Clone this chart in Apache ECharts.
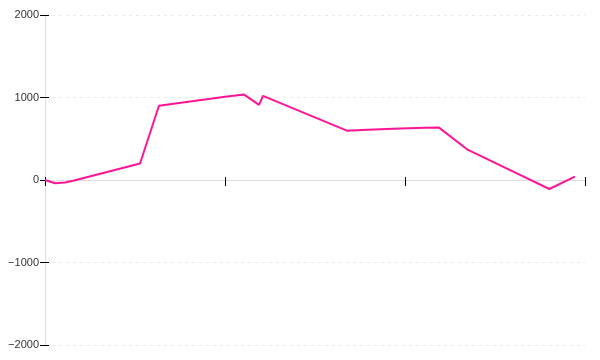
<!DOCTYPE html>
<html>
<head>
<meta charset="utf-8">
<script src="https://cdn.jsdelivr.net/npm/echarts@6/dist/echarts.min.js"></script>
<style>html,body{margin:0;padding:0;background:#fff;}#c{width:600px;height:360px;}</style>
</head>
<body>
<div id="c"></div>
<script>
var xValues = [0, 0.056, 0.111, 0.156, 0.528, 0.633, 1.0, 1.106, 1.189, 1.211, 1.677, 1.76, 1.933, 2.111, 2.189, 2.35, 2.639, 2.802, 2.944];
var yValues = [0, -40, -30, -10, 200, 900, 1010, 1035, 910, 1020, 598, 605, 620, 632, 635, 364, 61, -109, 40];
var yTicks = [-2000, -1000, 0, 1000, 2000];

var points = xValues.map(function (x, i) { return [x, yValues[i]]; });
var chart = echarts.init(document.getElementById('c'), null, {renderer: 'canvas'});
var labelFont = {
  color: '#333', fontSize: 11, fontFamily: 'Liberation Sans', margin: 6,
  formatter: function (v) { return v < 0 ? '\u2212' + String(-v) : String(v); }
};
chart.setOption({
  animation: false,
  grid: {left: 45, right: 15, top: 15, bottom: 15, containLabel: false},
  xAxis: [{
    type: 'value', min: 0, max: 3, interval: 1,
    axisLine: {onZero: true, lineStyle: {color: '#ddd', width: 1}, z: 3},
    axisTick: {show: true, length: 6, lineStyle: {color: '#000', width: 1}},
    axisLabel: {show: false},
    splitLine: {show: false}
  }, {
    type: 'value', min: 0, max: 3, interval: 1, position: 'bottom',
    axisLine: {show: false, onZero: true},
    axisTick: {show: true, inside: true, length: 3, lineStyle: {color: '#000', width: 1}},
    axisLabel: {show: false},
    splitLine: {show: false}
  }],
  yAxis: [{
    type: 'value', min: yTicks[0], max: yTicks[yTicks.length - 1], interval: 1000, position: 'left',
    axisLine: {show: true, lineStyle: {color: '#ddd', width: 1}},
    axisTick: {show: true, length: 5, lineStyle: {color: '#000', width: 1}},
    axisLabel: labelFont,
    splitLine: {show: true, lineStyle: {color: '#e8e8e8', type: [3, 4], width: 1}}
  }, {
    type: 'value', min: yTicks[0], max: yTicks[yTicks.length - 1], interval: 1000, position: 'left',
    axisLine: {show: false},
    axisTick: {show: true, inside: true, length: 4, lineStyle: {color: '#000', width: 1}},
    axisLabel: {show: false},
    splitLine: {show: false}
  }],
  series: [{
    type: 'line',
    xAxisIndex: 0, yAxisIndex: 0,
    data: points,
    showSymbol: false,
    symbol: 'none',
    lineStyle: {color: '#ff1493', width: 2},
    itemStyle: {color: '#ff1493'},
    z: 5
  }]
});
</script>
</body>
</html>
